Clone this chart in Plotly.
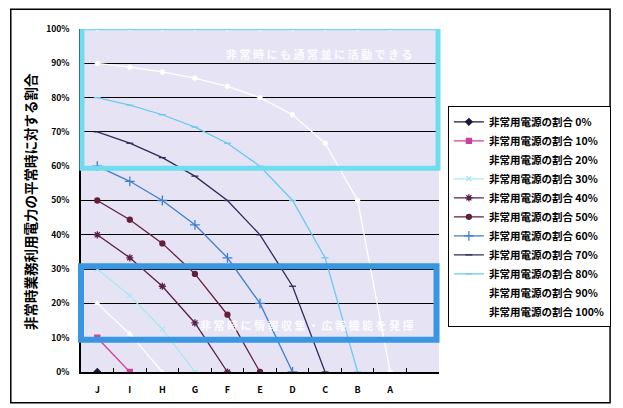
import plotly.graph_objects as go

categories = ["J", "I", "H", "G", "F", "E", "D", "C", "B", "A", " "]
series_names = ["非常用電源の割合 0%", "非常用電源の割合 10%", "非常用電源の割合 20%",
                "非常用電源の割合 30%", "非常用電源の割合 40%", "非常用電源の割合 50%",
                "非常用電源の割合 60%", "非常用電源の割合 70%", "非常用電源の割合 80%",
                "非常用電源の割合 90%", "非常用電源の割合 100%"]
s0 = [0]
s10 = [10, 0]
s20 = [20, 11.1, 0]
s30 = [30, 22.2, 12.5, 0]
s40 = [40, 33.3, 25, 14.3, 0]
s50 = [50, 44.4, 37.5, 28.6, 16.7, 0]
s60 = [60, 55.6, 50, 42.9, 33.3, 20, 0]
s70 = [70, 66.7, 62.5, 57.1, 50, 40, 25, 0]
s80 = [80, 77.8, 75, 71.4, 66.7, 60, 50, 33.3, 0]
s90 = [90, 88.9, 87.5, 85.7, 83.3, 80, 75, 66.7, 50, 0]
s100 = [100, 100, 100, 100, 100, 100, 100, 100, 100, 100]
all_series = [s0, s10, s20, s30, s40, s50, s60, s70, s80, s90, s100]

colors = ["#1a1a3a", "#d0409a", "#ffffff", "#a8e8f4", "#5c1f4a", "#641e3c",
          "#3d7fcc", "#2c2c58", "#6cc8ec", "#ffffff", "#ffffff"]
symbols = ["diamond", "square", "triangle-up", "x-thin-open", "asterisk-open", "circle",
           "cross-thin-open", "line-ew-open", "line-ew-open", "circle", "circle"]
msizes = [5, 5, 4, 5, 6, 5, 7, 5, 5, 4, 3]

FONT = "Noto Sans CJK JP"
W, H = 623, 408
L, R, T, B = 81, 180, 29, 33
PW, PH = W - L - R, H - T - B

def px2x(px):
    return (px - L) / PW

def px2y(py):
    return (H - B - py) / PH

fig = go.Figure()
for name, vals, c, sym, ms in zip(series_names, all_series, colors, symbols, msizes):
    fig.add_trace(go.Scatter(
        x=categories[:len(vals)], y=vals, name=name, mode="lines+markers",
        line=dict(color=c, width=1.3),
        marker=dict(symbol=sym, size=ms, color=c, line=dict(color=c, width=1.3)),
    ))

shapes = [
    # outer chart border
    dict(type="rect", xref="paper", yref="paper", x0=px2x(10), x1=px2x(616),
         y0=px2y(406), y1=px2y(9), line=dict(color="black", width=1.5), layer="below"),
    # cyan box
    dict(type="rect", xref="paper", yref="y", x0=px2x(82), x1=px2x(442),
         y0=59.4, y1=100.4, line=dict(color="#6fdcf0", width=5), layer="above"),
    # blue box
    dict(type="rect", xref="paper", yref="y", x0=px2x(81), x1=px2x(440.5),
         y0=9.4, y1=30.8, line=dict(color="#3a96e0", width=6), layer="above"),
]

annotations = [
    dict(text="非 常 時 に も 通 常 並 に 活 動 で き る", xref="paper", yref="y",
         x=px2x(322), y=92.6, showarrow=False,
         font=dict(family=FONT, size=11, color="rgba(255,255,255,0.9)", weight="bold")),
    dict(text="非 常 時 に 情 報 収 集 ・ 広 報 機 能 を 発 揮", xref="paper", yref="y",
         x=px2x(309), y=13.6, showarrow=False,
         font=dict(family=FONT, size=11, color="rgba(255,255,255,0.9)", weight="bold")),
    dict(text="非常時業務利用電力の平常時に対する割合", xref="paper", yref="paper",
         x=px2x(30), y=px2y(203), textangle=-90, showarrow=False,
         xanchor="center", yanchor="middle",
         font=dict(family=FONT, size=13.5, color="black", weight="bold")),
]

fig.update_layout(
    width=W, height=H,
    margin=dict(l=L, r=R, t=T, b=B),
    paper_bgcolor="white",
    plot_bgcolor="#e6e4f4",
    font=dict(family=FONT, color="black"),
    shapes=shapes,
    annotations=annotations,
    showlegend=True,
    legend=dict(x=px2x(452), y=px2y(107), xanchor="left", yanchor="top",
                bordercolor="black", borderwidth=1, bgcolor="white",
                font=dict(family=FONT, size=10.5, weight="bold", color="black"),
                tracegroupgap=0, itemwidth=30),
    xaxis=dict(type="category", categoryorder="array", categoryarray=categories,
               range=[-0.5, 10.5], tickson="boundaries", ticks="inside", ticklen=4,
               tickcolor="black", showgrid=False, showline=True, linecolor="black",
               linewidth=1.5, ticklabelstandoff=8,
               tickfont=dict(family=FONT, size=9, weight="bold", color="black")),
    yaxis=dict(range=[0, 100], dtick=10, ticksuffix="%", showgrid=True,
               gridcolor="black", gridwidth=1.3, showline=True, linecolor="black",
               linewidth=1.5, zeroline=False, ticks="", ticklabelstandoff=8,
               tickfont=dict(family=FONT, size=8.5, weight="bold", color="black")),
)

fig.write_html("out.html")
